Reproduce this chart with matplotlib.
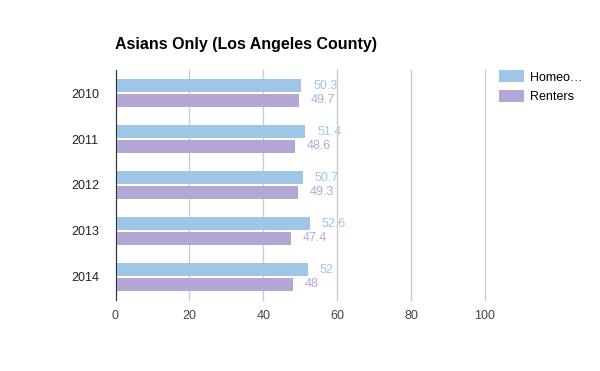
import matplotlib.pyplot as plt
import numpy as np

plt.rcParams['font.family'] = ['Liberation Sans', 'DejaVu Sans']

years = ['2010', '2011', '2012', '2013', '2014']
homeowners = [50.3, 51.4, 50.7, 52.6, 52]
renters = [49.7, 48.6, 49.3, 47.4, 48]
xticks = [0, 20, 40, 60, 80, 100]

blue = '#9fc5e8'
purple = '#b4a7d6'

fig = plt.figure(figsize=(6, 3.71), dpi=100)
ax = fig.add_axes([0.1925, 0.1914, 0.6158, 0.6199])

y = np.arange(len(years))
h = 0.28
ax.barh(y - 0.155, homeowners, height=h, color=blue, label='Homeo…', zorder=3)
ax.barh(y + 0.155, renters, height=h, color=purple, label='Renters', zorder=3)

# value labels at bar ends
for i, (a, b) in enumerate(zip(homeowners, renters)):
    ax.text(a + 3.2, i - 0.155, f'{a:g}', color=blue, fontsize=9, va='center', ha='left')
    ax.text(b + 3.2, i + 0.155, f'{b:g}', color=purple, fontsize=9, va='center', ha='left')

ax.set_xlim(0, 100)
ax.set_ylim(len(years) - 0.5, -0.5)
ax.set_xticks(xticks)
ax.set_xticklabels([str(t) for t in xticks], fontsize=9, color='#444444')
ax.set_yticks(y)
ax.set_yticklabels(years, fontsize=9, color='#222222')
ax.tick_params(length=0)
ax.tick_params(axis='x', pad=7)
ax.tick_params(axis='y', pad=12)

ax.grid(axis='x', color='#cccccc', linewidth=1, zorder=0)
for gl in ax.get_xgridlines():
    gl.set_clip_on(False)
for s in ['top', 'right', 'bottom']:
    ax.spines[s].set_visible(False)
ax.spines['left'].set_color('#333333')
ax.spines['left'].set_zorder(4)

fig.text(115 / 600, 1 - 45 / 371, 'Asians Only (Los Angeles County)', fontsize=11.5,
         fontweight='bold', va='center', ha='left', color='#000000')

ax.legend(loc='upper left', bbox_to_anchor=(1.025, 1.02), frameon=False, fontsize=9,
          handlelength=2.0, handleheight=1.1, handletextpad=0.5, labelspacing=0.5,
          borderaxespad=0)

fig.savefig('out.png', dpi=100)
